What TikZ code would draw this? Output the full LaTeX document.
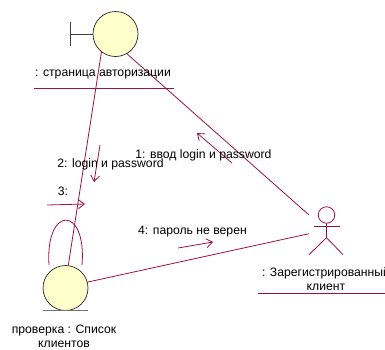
\documentclass[tikz,border=0pt]{standalone}
\usepackage{fontspec}
\setmainfont{Liberation Sans}
\usepackage{xcolor}
\usetikzlibrary{arrows.meta,positioning}
\definecolor{rose}{RGB}{158,16,72}
\definecolor{objfill}{RGB}{255,255,204}
\tikzset{
    objc/.style={circle,draw=black!85,fill=objfill,minimum size=45pt,inner sep=0pt,line width=0.7pt},
    link/.style={draw=rose,line width=0.8pt},
    msg/.style={draw=rose,line width=0.8pt,-{Straight Barb[length=6pt,width=9pt]}},
    txt/.style={font=\fontsize{12.2}{14}\selectfont,align=center,inner sep=0pt}
}
\begin{document}
\begin{tikzpicture}[x=1pt,y=-1pt]
    \useasboundingbox (0,0) rectangle (385,349);
    \clip (0,0) rectangle (385,349);
    \node[objc] (bnd) at (115.5,34) {};
    \draw[black!75,line width=0.8pt] (bnd.west) -- ++(-22,0) coordinate (bar);
    \draw[black!75,line width=0.8pt] ([yshift=12pt]bar) -- ([yshift=-12pt]bar);
    \node[objc] (ent) at (65.5,288) {};
    \draw[black!55,line width=0.8pt] ([xshift=-22.5pt]ent.south) -- ([xshift=22.5pt]ent.south);
    \node[circle,draw=rose,line width=0.8pt,minimum size=16.5pt,inner sep=0pt] (head) at (326.5,215) {};
    \draw[link] (head.south) -- ++(0,14) coordinate (hip) -- ++(-17.5,17) (hip) -- ++(16.5,17);
    \draw[link] (313.5,226) -- (339.5,226);
    \node[minimum width=34pt,minimum height=48pt,inner sep=0pt] (act) at (326,230) {};
    \draw[link] (bnd.232) -- (ent.83);
    \draw[link] (bnd.300) -- (act);
    \draw[link] (ent.15) -- (act);
    \draw[link] ([xshift=-16.5pt]ent.north) .. controls +(-4,-60) and +(5,-60) .. ([xshift=16.5pt]ent.north);
    \node[txt] (bndlbl) at (103,74) {: страница авторизации};
    \draw[link] (34,88) -- (174,88);
    \node[txt] (entlbl) at (64,336) {проверка : Список\\клиентов};
    \node[txt] (actlbl) at (326,279) {: Зарегистрированный\\клиент};
    \draw[link] (258,293) -- (385,293);
    \coordinate (m1s) at (232,163);
    \coordinate (m1e) at (197,133);
    \coordinate (m2s) at (100,145);
    \coordinate (m2e) at (94,182);
    \coordinate (m3s) at (47,205);
    \coordinate (m3e) at (85,204);
    \coordinate (m4s) at (178,248);
    \coordinate (m4e) at (213,242);
    \draw[msg] (m1s) -- (m1e);
    \draw[msg] (m2s) -- (m2e);
    \draw[msg] (m3s) -- (m3e);
    \draw[msg] (m4s) -- (m4e);
    \node[txt] (m1lbl) at (203.5,155) {1: ввод login и password};
    \node[txt] (m2lbl) at (110.5,164) {2: login и password};
    \node[txt] (m3lbl) at (63,191) {3:};
    \node[txt] (m4lbl) at (192.5,232) {4: пароль не верен};
\end{tikzpicture}
\end{document}
